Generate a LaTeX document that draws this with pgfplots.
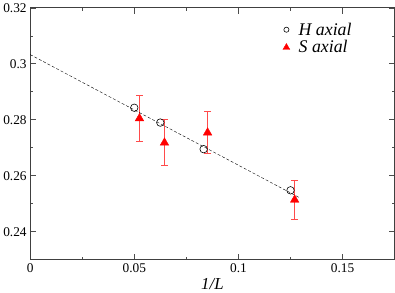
\documentclass[border=0pt]{standalone}
\usepackage{fontspec}
\setmainfont{Liberation Serif}
\usepackage{pgfplots}
\pgfplotsset{compat=1.18}
\definecolor{errred}{RGB}{255,75,75}
\begin{document}
\begin{tikzpicture}
\begin{axis}[
  scale only axis,
  width=369pt, height=255pt,
  xmin=0, xmax=0.175, ymin=0.23, ymax=0.32,
  xtick={0,0.05,0.1,0.15},
  xticklabels={0,0.05,0.1,0.15},
  ytick={0.24,0.26,0.28,0.3,0.32},
  yticklabels={0.24,0.26,0.28,0.3,0.32},
  minor xtick={0.025,0.075,0.125,0.175},
  minor ytick={0.23,0.25,0.27,0.29,0.31},
  tick align=inside,
  major tick length=6pt, minor tick length=3pt,
  every tick/.style={black!70, line width=0.6pt},
  axis line style={black!75, line width=0.7pt},
  tick label style={font=\fontsize{13.5}{14}\selectfont},
  /pgf/number format/assume math mode=true,
  xlabel={\textit{1/L}},
  xlabel style={font=\fontsize{17}{18}\selectfont, yshift=1pt},
  legend style={draw=none, fill=none, at={(0.685,0.957)}, anchor=north west,
    font=\fontsize{18}{18}\selectfont, row sep=0pt,
    nodes={inner xsep=3pt},
    /tikz/every odd column/.append style={column sep=6pt}},
  legend cell align=left,
  legend image code/.code={\draw[#1] plot coordinates {(0.15cm,0cm)};},
  clip=false,
]
% error bars (S axial)
\addplot[draw=errred, color=errred, line width=0.9pt, mark=-, mark size=3.5pt, mark options={draw=errred}, forget plot] coordinates {(0.0525,0.2722) (0.0525,0.2888)};
\addplot[draw=errred, color=errred, line width=0.9pt, mark=-, mark size=3.5pt, mark options={draw=errred}, forget plot] coordinates {(0.0645,0.2636) (0.0645,0.2800)};
\addplot[draw=errred, color=errred, line width=0.9pt, mark=-, mark size=3.5pt, mark options={draw=errred}, forget plot] coordinates {(0.0852,0.2679) (0.0852,0.2829)};
\addplot[draw=errred, color=errred, line width=0.9pt, mark=-, mark size=3.5pt, mark options={draw=errred}, forget plot] coordinates {(0.127,0.2445) (0.127,0.2583)};
\addplot[black, densely dashed, line width=0.4pt, forget plot] coordinates {(0,0.3033) (0.1295,0.2521)};
\addplot[only marks, mark=o, mark size=3.8pt, black, line width=0.6pt,
  legend image post style={mark size=2.6pt}] coordinates {
(0.05,0.2843) (0.0625,0.2790) (0.0833,0.2695) (0.125,0.2548)};
\addlegendentry{\textit{H axial}}
\addplot[red, only marks, mark=triangle*, mark size=5pt, line width=0.4pt,
  mark options={fill=red, draw=red},
  legend image post style={mark size=4pt}]
coordinates {
(0.0525,0.2805) (0.0645,0.2718) (0.0852,0.2754) (0.127,0.2514)};
\addlegendentry{\textit{S axial}}
\end{axis}
\end{tikzpicture}
\end{document}
